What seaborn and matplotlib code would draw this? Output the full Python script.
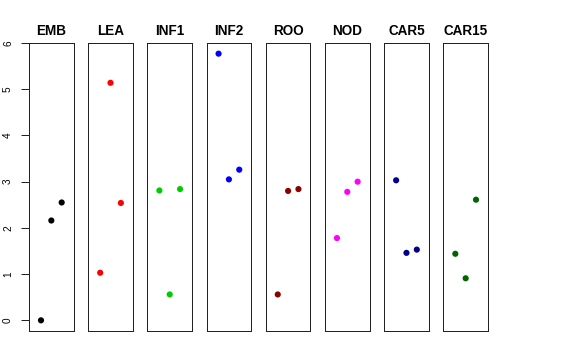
import matplotlib
matplotlib.use("Agg")
import matplotlib.pyplot as plt
import pandas as pd
import seaborn as sns

# tissues shown as panels, left to right
tissues = ["EMB", "LEA", "INF1", "INF2", "ROO", "NOD", "CAR5", "CAR15"]
colors = ["#000000", "#FF0000", "#00CD00", "#0000FF",
          "#8B0000", "#FF00FF", "#00008B", "#006400"]

# three replicates per tissue (x = replicate index)
replicate = [1, 2, 3]
emb = [0.00, 2.16, 2.55]
lea = [1.03, 5.14, 2.54]
inf1 = [2.81, 0.56, 2.84]
inf2 = [5.77, 3.05, 3.26]
roo = [0.56, 2.80, 2.84]
nod = [1.78, 2.78, 3.00]
car5 = [3.03, 1.46, 1.53]
car15 = [1.44, 0.91, 2.61]

values = [emb, lea, inf1, inf2, roo, nod, car5, car15]
y_ticks = [0, 1, 2, 3, 4, 5, 6]

rows = []
for t, vals in zip(tissues, values):
    for r, v in zip(replicate, vals):
        rows.append({"tissue": t, "replicate": r, "expr": v})
df = pd.DataFrame(rows)

sns.set_style("white")
plt.rcParams["font.family"] = ["Liberation Sans", "DejaVu Sans"]

fig, axes = plt.subplots(1, len(tissues), figsize=(8, 5), dpi=72, sharey=True)
fig.subplots_adjust(left=29 / 576, right=488 / 576, bottom=29 / 360, top=317 / 360, wspace=0.325)

ymax = df["expr"].max()
pad = 0.04 * ymax

for ax, t, c in zip(axes, tissues, colors):
    sub = df[df["tissue"] == t]
    sns.scatterplot(data=sub, x="replicate", y="expr", color=c, s=38,
                    edgecolor="none", ax=ax, legend=False)
    ax.set_xlim(-0.16, 4.16)
    ax.set_ylim(-pad, ymax + pad)
    ax.set_xticks([])
    ax.set_xlabel("")
    ax.set_ylabel("")
    ax.set_title(t, fontsize=13.5, fontweight="bold", color="black", pad=8)
    for sp in ax.spines.values():
        sp.set_visible(True)
        sp.set_color("#222222")
        sp.set_linewidth(1.0)
    ax.tick_params(axis="y", left=False, labelleft=False)

axes[0].set_yticks(y_ticks)
axes[0].tick_params(axis="y", left=True, labelleft=True, length=8, width=1,
                    color="#222222", labelcolor="black", labelsize=10, pad=8)
for lab in axes[0].get_yticklabels():
    lab.set_rotation(90)
    lab.set_va("center")

fig.savefig("out.png", dpi=72)
